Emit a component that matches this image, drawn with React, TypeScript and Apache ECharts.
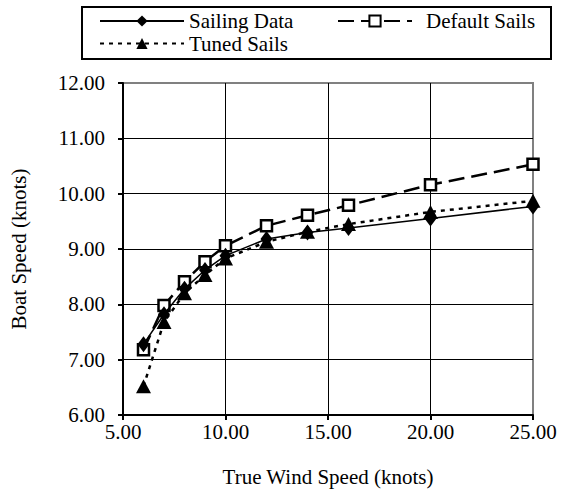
import React, { useEffect, useRef } from "react";
import * as echarts from "echarts";

const windSpeed = [6, 7, 8, 9, 10, 12, 14, 16, 20, 25];
const sailingData = [7.28, 7.82, 8.28, 8.62, 8.88, 9.18, 9.3, 9.38, 9.55, 9.77];
const defaultSails = [7.18, 7.98, 8.41, 8.77, 9.06, 9.42, 9.61, 9.79, 10.16, 10.53];
const tunedSails = [6.52, 7.68, 8.2, 8.53, 8.83, 9.13, 9.31, 9.45, 9.67, 9.87];

const seriesNames = ["Sailing Data", "Default Sails", "Tuned Sails"];
const xAxisTitle = "True Wind Speed (knots)";
const yAxisTitle = "Boat Speed (knots)";

const FONT = "Liberation Serif";
const FS = 21;

const pairs = (ys: number[]) => windSpeed.map((x, i) => [x, ys[i]]);

export default function App() {
  const ref = useRef<HTMLDivElement>(null);
  useEffect(() => {
    if (!ref.current) return;
    const chart = echarts.init(ref.current, undefined, { renderer: "svg" });
    const legendText = {
      fontFamily: FONT,
      fontSize: FS,
      color: "#000",
      lineHeight: 22,
    };
    chart.setOption({
      animation: false,
      backgroundColor: "#fff",
      textStyle: { fontFamily: FONT, fontSize: FS },
      grid: {
        left: 110,
        right: 29,
        top: 83,
        bottom: 82,
        show: true,
        borderColor: "#808080",
        borderWidth: 2,
        backgroundColor: "transparent",
      },
      legend: [
        {
          data: [seriesNames[0]],
          left: 99,
          top: 10,
          padding: 0,
          itemWidth: 84,
          itemHeight: 14,
          textStyle: legendText,
        },
        {
          data: [seriesNames[1]],
          left: 337,
          top: 10,
          padding: 0,
          itemWidth: 74,
          itemHeight: 14,
          textStyle: { ...legendText, padding: [0, 0, 0, 9] },
        },
        {
          data: [seriesNames[2]],
          left: 99,
          top: 32.5,
          padding: 0,
          itemWidth: 84,
          itemHeight: 14,
          textStyle: legendText,
        },
      ],
      graphic: [
        {
          type: "rect",
          shape: { x: 82, y: 7, width: 469, height: 52 },
          style: { fill: "none", stroke: "#000", lineWidth: 2 },
        },
      ],
      xAxis: {
        type: "value",
        min: 5,
        max: 25,
        interval: 5,
        name: xAxisTitle,
        nameLocation: "middle",
        nameGap: 51,
        nameTextStyle: { fontFamily: FONT, fontSize: FS, color: "#000" },
        axisLine: { show: true, onZero: false, lineStyle: { color: "#000", width: 2 } },
        axisTick: { show: true, length: 5, lineStyle: { color: "#000", width: 2 } },
        axisLabel: {
          margin: 6,
          fontFamily: FONT,
          fontSize: FS,
          color: "#000",
          formatter: (v: number) => v.toFixed(2),
        },
        splitLine: {
          show: true,
          showMinLine: false,
          showMaxLine: false,
          lineStyle: { color: "#000", width: 1 },
        },
      },
      yAxis: {
        type: "value",
        min: 6,
        max: 12,
        interval: 1,
        name: yAxisTitle,
        nameLocation: "middle",
        nameGap: 94,
        nameTextStyle: { fontFamily: FONT, fontSize: FS, color: "#000" },
        axisLine: { show: true, onZero: false, lineStyle: { color: "#000", width: 2 } },
        axisTick: { show: true, length: 5, lineStyle: { color: "#000", width: 2 } },
        axisLabel: {
          margin: 18,
          fontFamily: FONT,
          fontSize: FS,
          color: "#000",
          formatter: (v: number) => v.toFixed(2),
        },
        splitLine: {
          show: true,
          showMinLine: false,
          showMaxLine: false,
          lineStyle: { color: "#000", width: 1 },
        },
      },
      series: [
        {
          name: seriesNames[1],
          type: "line",
          data: pairs(defaultSails),
          symbol: "rect",
          symbolSize: 11,
          itemStyle: { color: "#fff", borderColor: "#000", borderWidth: 2.5 },
          lineStyle: { color: "#000", width: 2.5, type: [16, 7] },
          z: 2,
        },
        {
          name: seriesNames[2],
          type: "line",
          data: pairs(tunedSails),
          symbol: "triangle",
          symbolSize: [15, 14],
          itemStyle: { color: "#000" },
          lineStyle: { color: "#000", width: 2.5, type: [4, 5] },
          z: 3,
        },
        {
          name: seriesNames[0],
          type: "line",
          data: pairs(sailingData),
          symbol: "diamond",
          symbolSize: [12, 16],
          itemStyle: { color: "#000" },
          lineStyle: { color: "#000", width: 1.5, type: "solid" },
          z: 4,
        },
      ],
    });
    return () => chart.dispose();
  }, []);
  return (
    <div
      ref={ref}
      style={{ position: "fixed", left: 0, top: 0, width: 562, height: 497 }}
    />
  );
}
